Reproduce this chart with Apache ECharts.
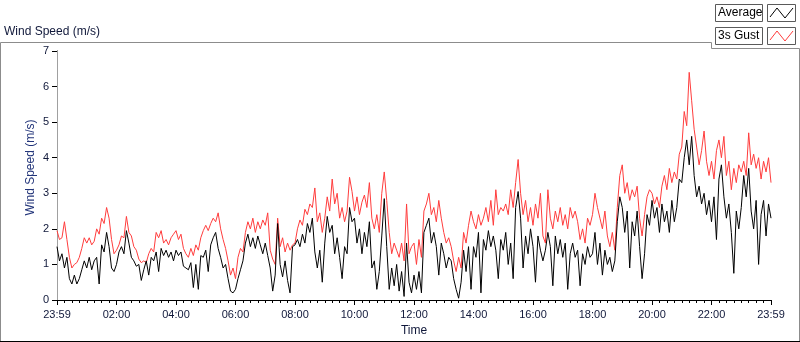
<!DOCTYPE html>
<html>
<head>
<meta charset="utf-8">
<script src="https://cdn.jsdelivr.net/npm/echarts@6.0.0/dist/echarts.min.js"></script>
<style>
  html, body { margin: 0; padding: 0; background: #fff; }
  #chart { width: 800px; height: 342px; }
</style>
</head>
<body>
<div id="chart"></div>
<script>
// one reading every 5 minutes, from 23:59 (x = 0) to 23:59 (x = 1440)
var stepMinutes = 5;
var tickHours = ['23:59', '02:00', '04:00', '06:00', '08:00', '10:00', '12:00',
  '14:00', '16:00', '18:00', '20:00', '22:00', '23:59'];

// 10 min average (black)
var avgSpeed = [
  1.5, 1.1, 1.3, 0.9, 1.2, 0.6, 0.45, 0.7, 0.45, 0.6, 0.85, 1.1,
  0.9, 1.2, 0.85, 1.1, 1.2, 0.45, 1.55, 1.35, 1.9, 1.5, 0.9, 0.8,
  1.0, 1.35, 1.5, 1.3, 1.95, 1.6, 1.2, 1.1, 0.95, 1.0, 0.55, 0.85,
  1.1, 0.7, 1.2, 1.1, 1.35, 0.8, 1.45, 1.25, 1.4, 1.2, 1.35, 1.1,
  1.4, 1.25, 1.35, 0.95, 0.9, 0.85, 1.05, 0.35, 1.0, 0.3, 1.25, 1.2,
  1.4, 0.8, 1.55, 1.75, 1.9, 1.45, 1.2, 0.9, 1.0, 0.6, 0.25, 0.2,
  0.3, 0.6, 0.85, 1.1, 1.6, 1.85, 1.5, 1.75, 1.45, 1.8, 1.55, 1.3,
  1.6, 1.25, 0.9, 0.25, 0.7, 2.15, 1.0, 0.65, 1.1, 0.55, 0.2, 1.5,
  1.55, 1.7, 1.5, 1.85, 1.6, 2.15, 1.9, 2.3, 1.35, 0.9, 1.4, 0.5,
  1.6, 2.35, 1.9, 2.1, 1.3, 1.75, 1.2, 0.6, 1.5, 1.3, 2.6, 2.2,
  2.3, 1.6, 2.0, 1.3, 1.9, 1.5, 2.2, 0.9, 1.1, 0.3, 0.8, 1.8,
  2.85, 1.5, 0.3, 0.9, 0.4, 1.0, 0.25, 0.8, 0.1, 1.6, 0.5, 0.2,
  0.7, 0.3, 0.8, 0.2, 1.9, 2.1, 2.3, 1.6, 1.9, 1.5, 0.7, 1.6,
  1.3, 0.9, 1.2, 1.1, 0.6, 0.3, 0.05, 0.5, 1.4, 0.8, 1.5, 0.3,
  1.5, 1.2, 1.9, 0.2, 1.7, 1.4, 1.95, 1.5, 1.8, 1.4, 0.6, 1.7,
  1.4, 1.9, 1.0, 1.6, 0.6, 2.6, 3.05, 2.3, 0.9, 1.8, 1.3, 2.0,
  1.5, 0.5, 1.8, 1.4, 1.1, 1.4, 1.9, 1.5, 0.4, 1.8, 1.3, 1.7,
  1.2, 1.6, 0.3, 1.3, 1.6, 1.2, 1.4, 0.4, 1.3, 1.0, 1.5, 1.2,
  1.3, 1.9, 1.0, 1.6, 0.7, 1.4, 1.0, 1.2, 0.8, 1.1, 2.2, 2.9,
  2.6, 1.9, 2.5, 0.9, 2.2, 1.8, 2.5, 1.5, 0.6, 1.3, 2.4, 2.1,
  2.8, 2.3, 2.6, 1.9, 2.7, 2.2, 2.5, 1.9, 2.8, 2.2, 2.6, 3.4,
  3.3, 4.0, 4.5, 3.8, 4.6, 3.5, 2.9, 3.2, 2.7, 3.0, 2.4, 2.8,
  2.2, 2.9, 1.7, 3.4, 3.8, 2.9, 2.3, 2.7, 1.9, 0.75, 2.5, 2.0,
  2.6, 3.5, 2.9, 3.7, 2.5, 2.0, 2.8, 1.0, 2.4, 2.8, 1.8, 2.7, 2.3
];

// 3s gust (red)
var gustSpeed = [
  1.95, 1.7, 1.75, 2.2, 1.7, 1.2, 0.9, 1.0, 1.05, 1.2, 1.45, 1.75,
  1.6, 1.75, 1.55, 1.65, 2.0, 1.85, 2.3, 2.15, 2.6, 2.3, 1.7, 1.3,
  1.4, 1.55, 1.8, 1.75, 2.35, 1.9, 1.8, 1.5, 1.4, 1.15, 1.05, 1.1,
  1.05, 1.3, 1.45, 1.35, 1.9, 1.75, 1.95, 1.6, 1.7, 1.55, 1.75, 1.85,
  1.95, 1.7, 1.85, 1.45, 1.3, 1.2, 1.45, 1.25, 1.55, 1.4, 1.75, 1.95,
  2.1, 1.95, 2.15, 2.3, 2.2, 2.45, 2.0, 1.7, 1.45, 1.1, 0.7, 0.9,
  0.6, 1.2, 1.45, 1.35, 1.9, 2.2, 2.0, 2.3, 1.9, 2.2, 2.0, 2.25,
  2.1, 2.45, 1.4, 1.15, 1.0, 2.3, 1.5, 1.75, 1.35, 1.6, 1.4, 1.55,
  1.6, 2.0, 2.25, 2.1, 2.55, 2.4, 2.7, 2.6, 3.15, 2.2, 2.45, 1.9,
  2.3, 2.9, 2.5, 3.4, 2.7, 3.0, 2.3, 2.6, 2.2, 2.5, 3.45, 3.05,
  2.5, 2.9, 2.4, 2.75, 2.95, 2.6, 3.3, 2.3, 2.0, 2.4, 1.9, 3.0,
  3.6, 2.8, 1.9, 1.3, 1.6, 1.4, 1.2, 1.6, 1.1, 2.7, 1.3, 1.5,
  1.6, 1.0, 1.7, 1.2, 2.5, 2.7, 3.0, 2.4, 2.6, 2.2, 2.8, 2.3,
  1.9, 1.6, 1.75, 1.5, 1.1, 0.8, 1.2, 0.9, 1.9, 1.6, 2.1, 2.5,
  2.2, 2.0, 2.4, 2.1, 2.3, 2.6, 2.2, 2.8, 2.1, 3.1, 2.4, 2.6,
  2.5, 2.7, 2.4, 3.1, 2.6, 3.3, 3.95, 3.0, 2.4, 2.8, 2.2, 2.6,
  2.1, 2.7, 2.3, 3.0, 1.8, 1.6, 3.1, 2.3, 2.0, 2.5, 2.2, 2.6,
  2.1, 2.4, 2.0, 2.6, 2.3, 2.5, 2.2, 1.7, 2.0, 1.6, 2.3, 2.1,
  2.4, 3.0, 2.6, 2.3, 2.0, 2.5, 1.8, 1.5, 1.9, 1.4, 2.6, 3.5,
  3.8, 3.0, 3.3, 2.8, 3.1, 2.9, 3.2, 2.3, 1.8, 2.4, 2.9, 3.1,
  3.0, 2.7, 2.9, 2.6, 3.2, 3.5, 3.1, 3.7, 3.3, 3.6, 3.4, 4.1,
  4.3, 5.3, 4.9, 6.4, 5.6, 4.8, 4.3, 3.8, 4.2, 4.75, 3.9, 3.5,
  3.9, 3.4, 4.2, 4.5, 4.0, 4.6, 3.5, 3.9, 3.1, 3.7, 3.3, 3.8,
  3.6, 3.9, 3.5, 4.7, 3.8, 4.1, 3.7, 4.0, 3.4, 3.9, 3.6, 4.0, 3.3
];

function toPairs(values) {
  var out = [];
  for (var i = 0; i < values.length; i++) {
    out.push([i * stepMinutes, values[i]]);
  }
  return out;
}

var FONT = '"Liberation Sans", Arial, sans-serif';
var TXT = '#10183a';

// little legend box, LabVIEW style
function legendItem(top, label, color) {
  return [
    { type: 'rect', shape: { x: 715.5, y: top + 0.5, width: 47, height: 17 },
      style: { fill: '#fff', stroke: '#5a5a5a', lineWidth: 1 } },
    { type: 'text', x: 718, y: top + 9,
      style: { text: label, font: '12px ' + FONT, fill: '#000', verticalAlign: 'middle' } },
    { type: 'rect', shape: { x: 767.5, y: top + 0.5, width: 28, height: 17 },
      style: { fill: '#fff', stroke: '#5a5a5a', lineWidth: 1 } },
    { type: 'polyline', shape: { points: [[770, top + 13], [777, top + 4], [785, top + 14], [793, top + 4]] },
      style: { stroke: color, lineWidth: 1, fill: null } }
  ];
}

function setOption(chart) {
  var option = {
    animation: false,
    textStyle: { fontFamily: FONT },
    grid: { left: 57, right: 29, top: 51, bottom: 39 },
    xAxis: [
      {
        type: 'value',
        min: 0,
        max: 1440,
        interval: 120,
        name: 'Time',
        nameLocation: 'middle',
        nameGap: 25,
        nameTextStyle: { color: TXT, fontSize: 12, fontFamily: FONT },
        axisLine: { lineStyle: { color: '#8a8a8a', width: 1 } },
        axisTick: { length: 5, lineStyle: { color: '#000' } },
        minorTick: { show: true, splitNumber: 8, length: 3, lineStyle: { color: '#000' } },
        splitLine: { show: false },
        axisLabel: {
          color: TXT,
          fontSize: 11,
          margin: 9,
          formatter: function (v) { return tickHours[Math.round(v / 120)]; }
        }
      },
      {
        // top edge of plot frame
        type: 'value', position: 'top', min: 0, max: 1440,
        axisLine: { lineStyle: { color: '#000' } },
        axisTick: { show: false }, axisLabel: { show: false }, splitLine: { show: false }
      }
    ],
    yAxis: [
      {
        type: 'value',
        min: 0,
        max: 7,
        interval: 1,
        name: 'Wind Speed (m/s)',
        nameLocation: 'middle',
        nameGap: 20,
        nameMoveOverlap: false,
        nameTextStyle: { color: '#23357a', fontSize: 12, fontFamily: FONT, padding: [0, 0, 0, 16] },
        axisLine: { show: true, lineStyle: { color: '#000' } },
        axisTick: { show: true, length: 5, lineStyle: { color: '#000' } },
        splitLine: { show: false },
        axisLabel: { color: TXT, fontSize: 11, margin: 8 }
      },
      {
        // right edge of plot frame
        type: 'value', position: 'right', min: 0, max: 7,
        axisLine: { show: true, lineStyle: { color: '#a0a0a0' } },
        axisTick: { show: false }, axisLabel: { show: false }, splitLine: { show: false }
      }
    ],
    series: [
      {
        name: '3s Gust',
        type: 'line',
        data: toPairs(gustSpeed),
        showSymbol: false,
        lineStyle: { color: '#ff3c3c', width: 1 },
        z: 2
      },
      {
        name: 'Average',
        type: 'line',
        data: toPairs(avgSpeed),
        showSymbol: false,
        lineStyle: { color: '#000', width: 1 },
        z: 3
      }
    ],
    graphic: [
      // outer frame of the graph panel
      { type: 'polyline', shape: { points: [[711.5, 42.5], [0.5, 42.5], [0.5, 341.5]] },
        style: { stroke: '#8c8c8c', lineWidth: 1, fill: null } },
      { type: 'polyline', shape: { points: [[711.5, 42.5], [711.5, 48.5], [799.5, 48.5], [799.5, 341.5]] },
        style: { stroke: '#8c8c8c', lineWidth: 1, fill: null } },
      { type: 'line', shape: { x1: 0, y1: 341.5, x2: 800, y2: 341.5 },
        style: { stroke: '#000', lineWidth: 1 } },
      { type: 'text', x: 4, y: 32,
        style: { text: 'Wind Speed (m/s)', font: '12px ' + FONT, fill: TXT, verticalAlign: 'middle' } }
    ].concat(legendItem(4, 'Average', '#000'), legendItem(27, '3s Gust', '#ff3c3c'))
  };
  chart.setOption(option);
}

var chart = echarts.init(document.getElementById('chart'), null, { renderer: 'canvas' });
setOption(chart);
</script>
</body>
</html>
